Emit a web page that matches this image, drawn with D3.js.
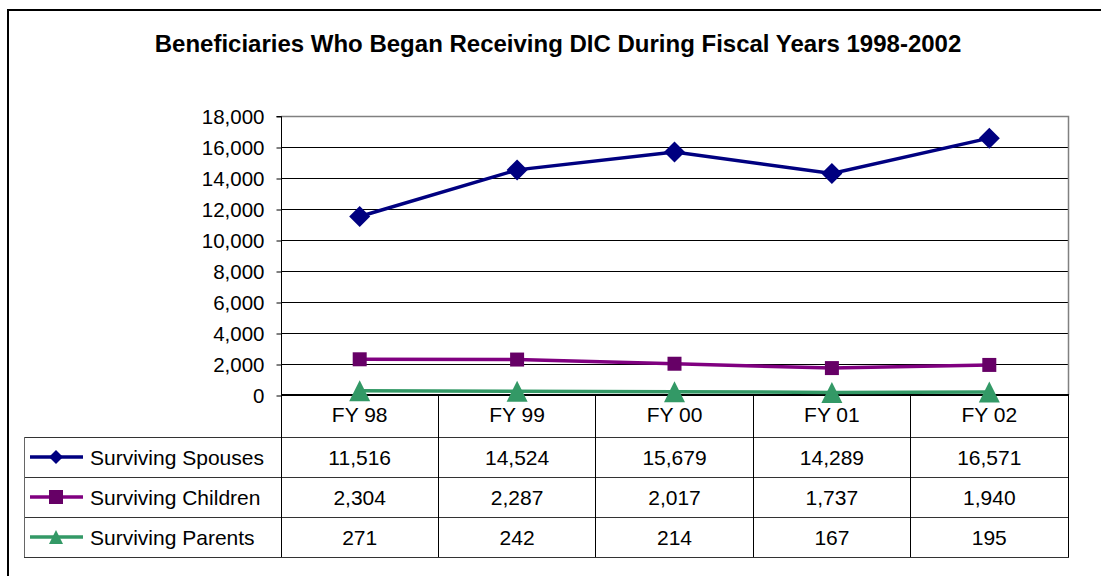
<!DOCTYPE html>
<html>
<head>
<meta charset="utf-8">
<script src="https://cdn.jsdelivr.net/npm/d3@7"></script>
<style>
  body { margin: 0; background: #fff; }
  svg { display: block; font-family: Arial, "Liberation Sans", sans-serif; }
</style>
</head>
<body>
<div id="chart"></div>
<script>
// DIC beneficiaries line chart with data table underneath

var years = ["FY 98", "FY 99", "FY 00", "FY 01", "FY 02"];
var spouses = [11516, 14524, 15679, 14289, 16571];
var children = [2304, 2287, 2017, 1737, 1940];
var parents = [271, 242, 214, 167, 195];
var seriesNames = ["Surviving Spouses", "Surviving Children", "Surviving Parents"];
var yTicks = [0, 2000, 4000, 6000, 8000, 10000, 12000, 14000, 16000, 18000];

(function() {
  var width = 1101, height = 576;
  var plot = { left: 281, right: 1068, top: 116, bottom: 395 };
  var tableLeft = 24, tableBottom = 557, headerBottom = 437;

  var svg = d3.select("#chart")
    .append("svg")
    .attr("width", width)
    .attr("height", height);

  // outer frame (top + left visible)
  svg.append("path")
    .attr("d", "M8,576 L8,10 L1101,10")
    .attr("fill", "none")
    .attr("stroke", "#000")
    .attr("stroke-width", 2);

  svg.append("text")
    .attr("x", 558)
    .attr("y", 52)
    .attr("text-anchor", "middle")
    .attr("font-weight", "bold")
    .attr("font-size", 24)
    .text("Beneficiaries Who Began Receiving DIC During Fiscal Years 1998-2002");

  var xScale = d3.scaleBand()
    .domain(years)
    .range([plot.left, plot.right]);

  var yScale = d3.scaleLinear()
    .domain([0, 18000])
    .range([plot.bottom, plot.top]);

  var rowScale = d3.scaleBand()
    .domain(seriesNames)
    .range([headerBottom, tableBottom]);

  var series = [
    { name: seriesNames[0], values: spouses, line: "#000080", fill: "#000080", shape: "diamond" },
    { name: seriesNames[1], values: children, line: "#800080", fill: "#660066", shape: "square" },
    { name: seriesNames[2], values: parents, line: "#339966", fill: "#339966", shape: "triangle" }
  ];

  // gridlines
  svg.append("g")
    .selectAll("line")
    .data(yTicks.filter(function(d) { return d > 0 && d < 18000; }))
    .enter().append("line")
    .attr("x1", plot.left)
    .attr("x2", plot.right)
    .attr("y1", function(d) { return Math.round(yScale(d)) + 0.5; })
    .attr("y2", function(d) { return Math.round(yScale(d)) + 0.5; })
    .attr("stroke", "#000")
    .attr("stroke-width", 1);

  // plot area top / right border
  svg.append("path")
    .attr("d", "M" + plot.left + "," + (plot.top + 0.5) + " L" + (plot.right + 0.5) + "," + (plot.top + 0.5) +
      " L" + (plot.right + 0.5) + "," + plot.bottom)
    .attr("fill", "none")
    .attr("stroke", "#808080")
    .attr("stroke-width", 1.5);

  // y axis
  var yAxis = svg.append("g")
    .attr("transform", "translate(" + (plot.left + 0.5) + ",0.5)")
    .call(d3.axisLeft(yScale)
      .tickValues(yTicks)
      .tickSize(5)
      .tickPadding(12)
      .tickFormat(d3.format(",")));
  yAxis.select(".domain").attr("stroke", "#000").attr("d", "M-5," + (plot.top) + "H0V" + plot.bottom);
  yAxis.selectAll(".tick line").attr("stroke", "#000");
  yAxis.selectAll(".tick text")
    .attr("font-size", 20.5)
    .attr("font-family", "Arial, 'Liberation Sans', sans-serif")
    .attr("fill", "#000");

  // table grid
  var grid = svg.append("g")
    .attr("stroke", "#000")
    .attr("stroke-width", 1)
    .attr("shape-rendering", "crispEdges");

  grid.append("line")
    .attr("x1", plot.left).attr("x2", plot.right + 1)
    .attr("y1", plot.bottom).attr("y2", plot.bottom)
    .attr("stroke-width", 1.5);

  var rowLines = [headerBottom].concat(seriesNames.map(function(d) { return rowScale(d) + rowScale.bandwidth(); }));
  grid.selectAll(".row-line")
    .data(rowLines)
    .enter().append("line")
    .attr("x1", tableLeft).attr("x2", plot.right + 1)
    .attr("y1", function(d) { return d; })
    .attr("y2", function(d) { return d; })
    .attr("stroke", "#333");

  var colLines = years.map(function(d) { return xScale(d); }).concat([plot.right]);
  grid.selectAll(".col-line")
    .data(colLines)
    .enter().append("line")
    .attr("x1", function(d) { return d; })
    .attr("x2", function(d) { return d; })
    .attr("y1", plot.bottom)
    .attr("y2", tableBottom);

  grid.append("line")
    .attr("x1", tableLeft).attr("x2", tableLeft)
    .attr("y1", headerBottom).attr("y2", tableBottom)
    .attr("stroke", "#666");

  // header labels
  svg.append("g")
    .selectAll("text")
    .data(years)
    .enter().append("text")
    .attr("x", function(d) { return xScale(d) + xScale.bandwidth() / 2; })
    .attr("y", (plot.bottom + headerBottom) / 2 + 6)
    .attr("text-anchor", "middle")
    .attr("font-size", 21)
    .text(function(d) { return d; });

  function symbolPath(shape, s) {
    if (shape === "diamond") return "M0," + (-s) + " L" + s + ",0 L0," + s + " L" + (-s) + ",0 Z";
    if (shape === "square") return "M" + (-s) + "," + (-s) + " H" + s + " V" + s + " H" + (-s) + " Z";
    return "M0," + (-s) + " L" + s + "," + s + " L" + (-s) + "," + s + " Z";
  }
  var markerSize = { diamond: 10.5, square: 7, triangle: 10.5 };
  var legendSize = { diamond: 7, square: 7, triangle: 7 };

  var line = d3.line()
    .x(function(d, i) { return xScale(years[i]) + xScale.bandwidth() / 2; })
    .y(function(d) { return yScale(d); });

  series.forEach(function(s) {
    svg.append("path")
      .datum(s.values)
      .attr("d", line)
      .attr("fill", "none")
      .attr("stroke", s.line)
      .attr("stroke-width", 3.5);

    svg.append("g")
      .selectAll("path")
      .data(s.values)
      .enter().append("path")
      .attr("transform", function(d, i) {
        return "translate(" + (xScale(years[i]) + xScale.bandwidth() / 2) + "," + yScale(d) + ")";
      })
      .attr("d", symbolPath(s.shape, markerSize[s.shape]))
      .attr("fill", s.fill);

    var rowMid = rowScale(s.name) + rowScale.bandwidth() / 2;

    // legend key in table
    svg.append("line")
      .attr("x1", 30).attr("x2", 83)
      .attr("y1", rowMid).attr("y2", rowMid)
      .attr("stroke", s.line)
      .attr("stroke-width", 3.5);
    svg.append("path")
      .attr("transform", "translate(56," + rowMid + ")")
      .attr("d", symbolPath(s.shape, legendSize[s.shape]))
      .attr("fill", s.fill);

    svg.append("text")
      .attr("x", 90)
      .attr("y", rowMid + 7.5)
      .attr("font-size", 21)
      .text(s.name);

    svg.append("g")
      .selectAll("text")
      .data(s.values)
      .enter().append("text")
      .attr("x", function(d, i) { return xScale(years[i]) + xScale.bandwidth() / 2; })
      .attr("y", rowMid + 7.5)
      .attr("text-anchor", "middle")
      .attr("font-size", 21)
      .text(function(d) { return d3.format(",")(d); });
  });
})();
</script>
</body>
</html>
